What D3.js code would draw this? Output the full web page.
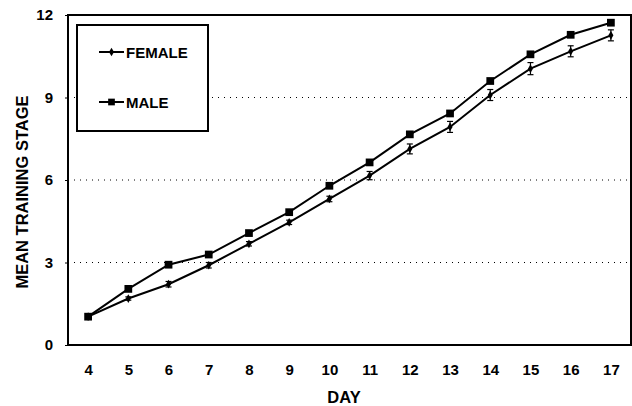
<!DOCTYPE html>
<html>
<head>
<meta charset="utf-8">
<script src="https://cdn.jsdelivr.net/npm/d3@7"></script>
<style>
  body { margin: 0; background: #fff; }
  svg { display: block; font-family: "Liberation Sans", Arial, sans-serif; font-weight: bold; }
</style>
</head>
<body>
<div id="chart"></div>
<script>
const days = [4, 5, 6, 7, 8, 9, 10, 11, 12, 13, 14, 15, 16, 17]
const femaleMean = [1.03, 1.69, 2.21, 2.90, 3.68, 4.46, 5.31, 6.16, 7.13, 7.93, 9.09, 10.05, 10.68, 11.26]
const femaleErr = [0.04, 0.06, 0.10, 0.10, 0.08, 0.08, 0.10, 0.15, 0.18, 0.20, 0.20, 0.22, 0.20, 0.20]
const maleMean = [1.03, 2.04, 2.92, 3.29, 4.07, 4.83, 5.79, 6.64, 7.66, 8.42, 9.60, 10.57, 11.28, 11.72]
const maleErr = [0.04, 0.06, 0.07, 0.06, 0.06, 0.08, 0.08, 0.10, 0.10, 0.08, 0.08, 0.10, 0.08, 0.06]
const yTicks = [0, 3, 6, 9, 12]
const gridValues = [3, 6, 9]

const width = 632, height = 406
const margin = { top: 15, right: 1, bottom: 61, left: 68 }

const svg = d3.select("#chart").append("svg")
  .attr("width", width)
  .attr("height", height)

const x = d3.scaleLinear().domain([3.5, 17.5]).range([margin.left, width - margin.right])
const y = d3.scaleLinear().domain([0, 12]).range([height - margin.bottom, margin.top])

// dotted gridlines
svg.append("g")
  .selectAll("line")
  .data(gridValues)
  .join("line")
  .attr("x1", margin.left)
  .attr("x2", width - margin.right)
  .attr("y1", d => y(d))
  .attr("y2", d => y(d))
  .attr("stroke", "#000")
  .attr("stroke-width", 1)
  .attr("stroke-dasharray", "1,5")

// frame
svg.append("rect")
  .attr("x", margin.left)
  .attr("y", margin.top)
  .attr("width", width - margin.right - margin.left)
  .attr("height", height - margin.bottom - margin.top)
  .attr("fill", "none")
  .attr("stroke", "#000")
  .attr("stroke-width", 2)

// axes
const yAxis = svg.append("g")
  .attr("transform", `translate(${margin.left},0)`)
  .call(d3.axisLeft(y).tickValues(yTicks).tickSize(3).tickPadding(12))
yAxis.select(".domain").remove()
yAxis.selectAll("text").attr("font-size", 15).attr("font-family", "Liberation Sans, Arial").attr("font-weight", "bold")

const xAxis = svg.append("g")
  .attr("transform", `translate(0,${height - margin.bottom})`)
  .call(d3.axisBottom(x).tickValues(days).tickSize(0).tickPadding(19))
xAxis.select(".domain").remove()
xAxis.selectAll("text").attr("font-size", 15).attr("font-family", "Liberation Sans, Arial").attr("font-weight", "bold")

// axis titles
svg.append("text")
  .attr("x", 344)
  .attr("y", 403)
  .attr("text-anchor", "middle")
  .attr("font-size", 16.5)
  .text("DAY")

svg.append("text")
  .attr("transform", `translate(28,${(margin.top + height - margin.bottom) / 2 + 12}) rotate(-90)`)
  .attr("text-anchor", "middle")
  .attr("font-size", 16.5)
  .text("MEAN TRAINING STAGE")

const line = d3.line()
  .x((d, i) => x(days[i]))
  .y(d => y(d))

function drawSeries(means, errs, shape, size) {
  const g = svg.append("g")
  g.append("path")
    .datum(means)
    .attr("fill", "none")
    .attr("stroke", "#000")
    .attr("stroke-width", 2)
    .attr("d", line)

  const eb = g.append("g").selectAll("g")
    .data(means)
    .join("g")
    .attr("stroke", "#000")
    .attr("stroke-width", 1.2)
  eb.append("line")
    .attr("x1", (d, i) => x(days[i])).attr("x2", (d, i) => x(days[i]))
    .attr("y1", (d, i) => y(d + errs[i])).attr("y2", (d, i) => y(d - errs[i]))
  eb.append("line")
    .attr("x1", (d, i) => x(days[i]) - 3).attr("x2", (d, i) => x(days[i]) + 3)
    .attr("y1", (d, i) => y(d + errs[i])).attr("y2", (d, i) => y(d + errs[i]))
  eb.append("line")
    .attr("x1", (d, i) => x(days[i]) - 3).attr("x2", (d, i) => x(days[i]) + 3)
    .attr("y1", (d, i) => y(d - errs[i])).attr("y2", (d, i) => y(d - errs[i]))

  g.append("g").selectAll("path")
    .data(means)
    .join("path")
    .attr("transform", (d, i) => `translate(${x(days[i])},${y(d)})`)
    .attr("d", d3.symbol().type(shape).size(size))
    .attr("fill", "#000")
}

drawSeries(femaleMean, femaleErr, d3.symbolDiamond, 22)
drawSeries(maleMean, maleErr, d3.symbolSquare, 60)

// legend
const legend = svg.append("g")
legend.append("rect")
  .attr("x", 77).attr("y", 25)
  .attr("width", 131).attr("height", 106)
  .attr("fill", "#fff")
  .attr("stroke", "#000")
  .attr("stroke-width", 2)

const legendItems = [
  { label: "FEMALE", shape: d3.symbolDiamond, size: 22, y: 52 },
  { label: "MALE", shape: d3.symbolSquare, size: 45, y: 102 }
]
legendItems.forEach(item => {
  legend.append("line")
    .attr("x1", 99).attr("x2", 124)
    .attr("y1", item.y).attr("y2", item.y)
    .attr("stroke", "#000").attr("stroke-width", 2)
  legend.append("path")
    .attr("transform", `translate(111.5,${item.y})`)
    .attr("d", d3.symbol().type(item.shape).size(item.size))
    .attr("fill", "#000")
  legend.append("text")
    .attr("x", 126).attr("y", item.y + 5.5)
    .attr("font-size", 15)
    .text(item.label)
})
</script>
</body>
</html>
